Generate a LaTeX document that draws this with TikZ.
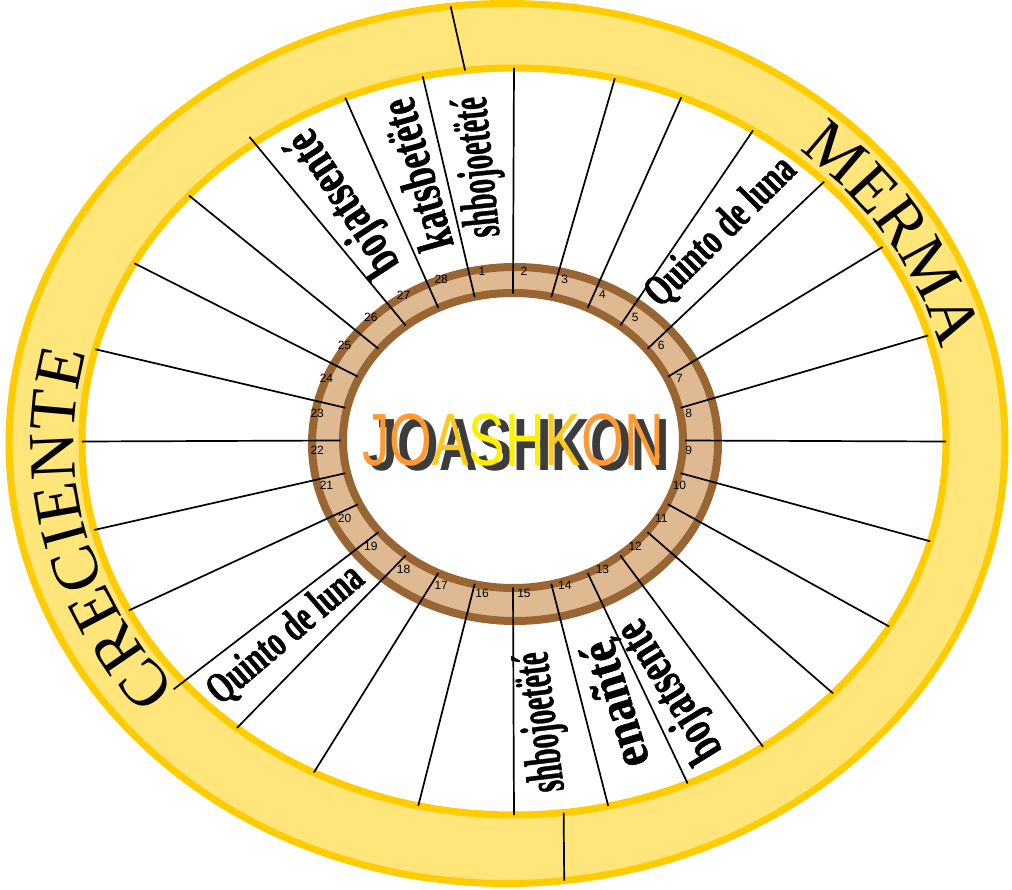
\documentclass[tikz,border=0pt]{standalone}
\usepackage{fontspec}
\setmainfont{Liberation Serif}
\newfontfamily\wordfont{Liberation Serif}[BoldFeatures={FakeBold=1.2}]
\newfontfamily\numfont{Liberation Sans}
\newfontfamily\logofont{Liberation Sans}
\usetikzlibrary{calc,decorations.text}

\definecolor{bandfill}{RGB}{255,229,122}
\definecolor{bandline}{RGB}{255,204,0}
\definecolor{ringfill}{RGB}{222,185,145}
\definecolor{ringline}{RGB}{153,102,51}
\definecolor{logoorange}{RGB}{255,153,51}
\definecolor{logomid}{RGB}{255,200,30}
\definecolor{logoyellow}{RGB}{255,240,0}
\definecolor{logoshadow}{RGB}{60,60,60}

\tikzstyle{band} = [fill=bandfill, draw=bandline, line width=7pt]
\tikzstyle{hole} = [fill=white, draw=bandline, line width=7pt]
\tikzstyle{ring} = [fill=ringfill, draw=ringline, line width=8pt]
\tikzstyle{ringhole} = [fill=white, draw=ringline, line width=8pt]
\tikzstyle{spoke} = [black, line width=1.7pt]
\tikzstyle{num} = [font=\numfont\fontsize{12}{12}\selectfont, inner sep=0pt, xshift=-11pt, yshift=10pt]
\tikzstyle{word} = [font=\wordfont\bfseries\fontsize{52}{52}\selectfont, inner sep=0pt]
\tikzstyle{quinto} = [font=\wordfont\bfseries\fontsize{44}{44}\selectfont, inner sep=0pt]

\newcommand\bandfont{\fontsize{66}{66}\selectfont}

\begin{document}
\begin{tikzpicture}[x=1pt, y=1pt]
\useasboundingbox (-510,-447) rectangle (502,442);
\coordinate (yo) at (-3,-1.5);
\coordinate (yi) at (4,0.5);
\coordinate (bo) at (5,-2);
\coordinate (bi) at (3,1.5);
\coordinate (lc) at (4,0);

\draw[band] (yo) ellipse [x radius=498pt, y radius=440pt];
\draw[hole] (yi) ellipse [x radius=432pt, y radius=373.5pt];

\coordinate (top1) at ($(yo)+(96.5:498pt and 440pt)$);
\coordinate (top2) at ($(yi)+(96.5:432pt and 373.5pt)$);
\coordinate (bot1) at ($(yo)+(276.6:498pt and 440pt)$);
\coordinate (bot2) at ($(yi)+(276.6:432pt and 373.5pt)$);
\draw[spoke] (top1) -- (top2);
\draw[spoke] (bot1) -- (bot2);

\draw[ring] (bo) ellipse [x radius=203pt, y radius=177pt];
\draw[ringhole] (bi) ellipse [x radius=170pt, y radius=147.5pt];

\foreach \k/\b/\f in {1/102.2/1,2/90/1,3/76.5/1,4/67.2/1,5/56.4/1,6/44.1/1,7/31.4/1,
    8/16.5/1,9/0/1,10/-15.5/1,11/-29.7/1,12/-42.4/1,13/-54.8/1,14/-66.3/1,
    15/-77.4/1,16/-90/1,17/-102.8/1,18/-117.6/1,19/-129.9/1,20/-139.9/1.03,
    21/-153.1/1,22/-166.3/1,23/-180/1,24/-194.3/1,25/-208.5/1,26/-221.2/1,
    27/-233.1/1.02,28/-247/1}{
    \pgfmathsetmacro\a{90-(\k-2)*360/28}
    \pgfmathsetmacro\rx{432*\f}
    \pgfmathsetmacro\ry{373.5*\f}
    \coordinate (s\k) at ($(bi)+(\a:172pt and 147pt)$);
    \coordinate (t\k) at ($(yi)+(\b:\rx pt and \ry pt)$);
    \draw[spoke] (s\k) -- (t\k);
}

\foreach \k in {1,...,28}{
    \pgfmathsetmacro\m{90-(\k-2)*360/28-180/28}
    \node[num] (n\k) at ($(lc)+(\m:187pt and 162pt)$) {\k};
}

\node[word, rotate=123.3] (w27) at (-165,240) {\scalebox{0.72}[1]{bojatsenté}};
\node[word, rotate=105.6] (w28) at (-94,267) {\scalebox{0.69}[1]{katsbetëte}};
\node[word, rotate=95.7] (w1) at (-30,275) {\scalebox{0.56}[1]{shbojoetëté}};
\node[word, rotate=97] (w15) at (33,-280) {\scalebox{0.56}[1]{shbojoetëté}};
\node[word, rotate=107] (w14) at (104,-263) {\scalebox{0.88}[1]{enañté}};
\node[word, rotate=121.8] (w13) at (161,-248) {\scalebox{0.69}[1]{bojatsenté}};
\node[quinto, rotate=44.8] (q5) at (211,210) {\scalebox{0.69}[1]{Quinto de luna}};
\node[quinto, rotate=40.5] (q19) at (-224,-193) {\scalebox{0.68}[1]{Quinto de luna}};

\path[decorate, decoration={text along path, text={|\bandfont|MERMA}, text align=center}]
    ($(yi)+(61.2:440pt and 382pt)$) arc[start angle=61.2, end angle=1.2, x radius=440pt, y radius=382pt];
\path[decorate, decoration={text along path, text={|\bandfont|CRECIENTE}, text align=center}]
    ($(yi)+(223.2:440pt and 382pt)$) arc[start angle=223.2, end angle=163.2, x radius=440pt, y radius=382pt];

\node[font=\logofont\bfseries\fontsize{74}{74}\selectfont, text=logoshadow, inner sep=0pt] (shadow) at (9,-3)
    {\scalebox{0.72}[1]{JOASHKON}};
\node[font=\logofont\fontsize{74}{74}\selectfont, inner sep=0pt] (logo) at (3,2)
    {\scalebox{0.74}[1]{\textcolor{logoorange}{J}\textcolor{logoorange}{O}\textcolor{logomid}{A}\textcolor{logoyellow}{S}\textcolor{logoyellow}{H}\textcolor{logomid}{K}\textcolor{logoorange}{O}\textcolor{logoorange}{N}}};
\end{tikzpicture}
\end{document}
